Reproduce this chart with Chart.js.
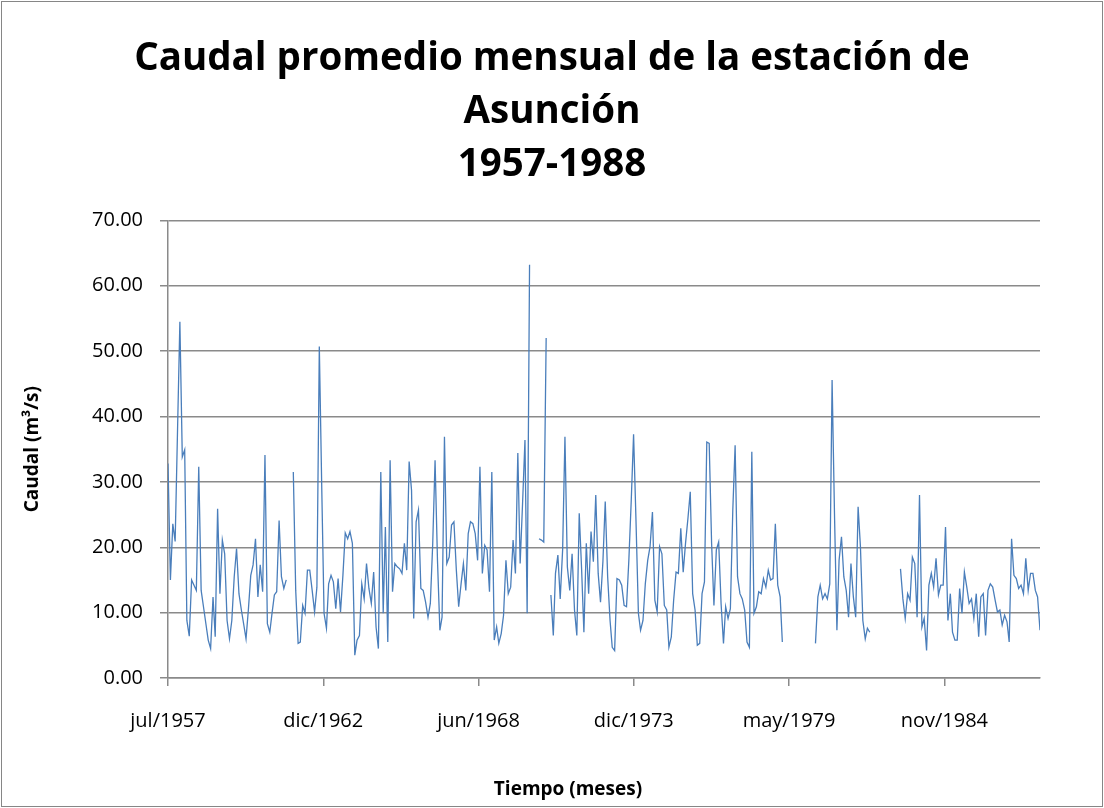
<!DOCTYPE html>
<html>
<head>
<meta charset="utf-8">
<title>Caudal promedio mensual - Asunción</title>
<script src="https://cdn.jsdelivr.net/npm/chart.js@4.4.1/dist/chart.umd.min.js"></script>
<style>
  html, body { margin: 0; padding: 0; background: #ffffff; }
  #wrap { width: 1104px; height: 808px; position: relative; }
</style>
</head>
<body>
<div id="wrap"><canvas id="caudalChart"></canvas></div>
<script>
// serie mensual, empieza en julio de 1957
const startYear = 1957;
const startMonth = 6; // 0 = enero
const mesesAbr = ["ene", "feb", "mar", "abr", "may", "jun", "jul", "ago", "sep", "oct", "nov", "dic"];

// caudal (m3/s), un renglon = 12 meses desde julio; null = sin dato
const caudal = [
    32.8, 15.0, 23.6, 20.9, 38.0, 54.5, 33.8, 34.9, 8.8, 6.4, 15.0, 14.2,
    13.4, 32.3, 13.4, 10.9, 8.3, 5.8, 4.5, 12.4, 6.3, 25.9, 12.9, 21.1,
    19.0, 8.8, 6.0, 8.8, 15.5, 19.8, 12.9, 10.4, 8.3, 6.0, 10.4, 15.7,
    17.3, 21.3, 12.4, 17.3, 13.2, 34.1, 8.3, 7.0, 9.8, 12.7, 13.2, 24.1,
    15.5, 13.7, 15.0, null, null, 31.5, 13.4, 5.3, 5.5, 11.1, 9.9, 16.5,
    16.5, 13.4, 10.1, 13.9, 50.7, 30.0, 9.9, 7.6, 14.4, 15.7, 14.7, 10.6,
    15.2, 10.1, 15.7, 22.2, 21.3, 22.4, 20.6, 3.5, 5.8, 6.5, 14.4, 12.1,
    17.5, 13.7, 11.4, 16.2, 7.8, 4.5, 31.5, 9.9, 23.1, 5.5, 33.3, 13.2,
    17.5, 17.0, 16.7, 16.0, 20.6, 16.5, 33.1, 28.7, 9.1, 23.9, 25.7, 13.7,
    13.4, 11.6, 9.3, 11.4, 20.6, 33.3, 18.0, 7.3, 9.3, 36.9, 17.5, 18.5,
    23.4, 23.9, 16.5, 10.9, 14.4, 17.5, 13.4, 22.1, 23.9, 23.6, 22.1, 18.0,
    32.3, 16.0, 20.3, 19.6, 13.2, 31.5, 5.8, 7.8, 5.3, 6.8, 9.6, 18.0,
    12.9, 13.9, 21.1, 16.0, 34.4, 17.5, 26.7, 36.4, 9.9, 63.2, null, null,
    null, 21.3, 21.1, 20.8, 52.0, null, 12.7, 6.5, 16.0, 18.8, 12.1, 19.6,
    36.9, 17.0, 13.4, 19.0, 10.4, 6.5, 25.2, 16.5, 7.0, 20.6, 12.9, 22.4,
    17.8, 28.0, 16.0, 11.6, 17.8, 27.0, 15.5, 8.8, 4.7, 4.2, 15.2, 15.0,
    14.2, 11.1, 10.9, 18.0, 27.2, 37.3, 24.1, 9.9, 7.3, 8.8, 14.4, 18.0,
    20.1, 25.4, 11.9, 10.1, 20.1, 19.0, 11.1, 10.4, 4.7, 6.3, 11.9, 16.2,
    16.0, 22.9, 16.2, 20.6, 24.4, 28.5, 12.9, 10.4, 5.0, 5.3, 12.9, 14.7,
    36.1, 35.9, 20.6, 11.1, 19.6, 20.8, 11.4, 5.3, 10.9, 9.1, 10.6, 25.7,
    35.6, 15.5, 12.9, 12.1, 10.4, 5.5, 4.7, 34.6, 9.9, 10.9, 13.2, 12.9,
    15.2, 13.9, 16.5, 15.0, 15.2, 23.6, 14.2, 12.4, 5.5, null, null, null,
    null, null, null, null, null, null, null, null, null, null, 5.3, 12.4,
    14.2, 12.1, 12.9, 12.1, 14.4, 45.6, 25.0, 7.3, 18.0, 21.6, 15.5, 13.4,
    9.3, 17.5, 12.4, 9.3, 26.2, 20.1, 8.8, 6.0, 7.6, 7.0, null, null,
    null, null, null, null, null, null, null, null, null, null, 16.7, 12.1,
    9.1, 12.9, 11.9, 18.5, 17.5, 9.3, 28.0, 7.8, 9.1, 4.2, 14.2, 16.0,
    13.9, 18.3, 12.7, 14.2, 14.2, 23.1, 8.8, 12.9, 7.0, 5.8, 5.8, 13.7,
    9.9, 16.2, 13.9, 11.4, 12.1, 9.1, 12.9, 6.3, 12.4, 12.9, 6.5, 13.4,
    14.4, 13.9, 11.9, 10.1, 10.4, 8.1, 9.6, 8.6, 5.5, 21.3, 15.7, 15.2,
    13.7, 14.2, 12.9, 18.3, 13.4, 16.0, 16.0, 13.4, 12.4, 7.3
];

// eje de fechas: marcas cada 2000 dias desde el primer mes
const tickDias = [0, 2000, 4000, 6000, 8000, 10000];

const dayMs = 86400000;
const t0 = Date.UTC(startYear, startMonth, 1);
const dias = caudal.map((_, i) => (Date.UTC(startYear, startMonth + i, 1) - t0) / dayMs);
const puntos = caudal.map((v, i) => ({ x: dias[i], y: v }));

const fontFam = "'Open Sans', 'Noto Sans', sans-serif";
const gris = "#8a8a8a";

// marco gris alrededor del grafico + titulo del eje x (Excel lo deja algo a la izquierda)
const marco = {
    id: "marco",
    afterDraw(chart) {
        const c = chart.ctx;
        c.save();
        c.strokeStyle = "#868686";
        c.lineWidth = 1;
        c.strokeRect(1.5, 1.5, chart.width - 3, chart.height - 3);
        c.fillStyle = "#000000";
        c.font = "bold 19px " + fontFam;
        c.textAlign = "center";
        c.textBaseline = "middle";
        c.fillText("Tiempo (meses)", 568, 790);
        c.restore();
    }
};

const ctx = document.getElementById("caudalChart").getContext("2d");
new Chart(ctx, {
    type: "line",
    data: {
        datasets: [{
            label: "Caudal",
            data: puntos,
            borderColor: "#4A7EBB",
            borderWidth: 1.3,
            pointRadius: 0,
            tension: 0,
            spanGaps: false,
            fill: false
        }]
    },
    options: {
        responsive: true,
        maintainAspectRatio: false,
        animation: false,
        layout: { padding: { left: 64, right: 64, top: 0, bottom: 0 } },
        plugins: {
            legend: { display: false },
            tooltip: { enabled: false },
            title: {
                display: true,
                text: ["Caudal promedio mensual de la estación de", "Asunción", "1957-1988"],
                color: "#000000",
                font: { family: fontFam, size: 38.5, weight: "bold", lineHeight: 1.38 },
                padding: { top: 32, bottom: 29 }
            }
        },
        scales: {
            x: {
                type: "linear",
                min: 0,
                max: dias[dias.length - 1],
                afterBuildTicks: (scale) => {
                    scale.ticks = tickDias.map(v => ({ value: v }));
                },
                afterFit: (scale) => { scale.height = 130; },
                ticks: {
                    autoSkip: false,
                    maxRotation: 0,
                    padding: 23,
                    color: "#000000",
                    font: { family: fontFam, size: 20 },
                    callback: (v) => {
                        const d = new Date(t0 + v * dayMs);
                        return mesesAbr[d.getUTCMonth()] + "/" + d.getUTCFullYear();
                    }
                },
                grid: { drawOnChartArea: false, drawTicks: true, tickLength: 8, color: gris, lineWidth: 1.5 },
                border: { display: true, color: gris, width: 1.5 }
            },
            y: {
                min: 0,
                max: 70,
                afterFit: (scale) => { scale.width = 104; },
                ticks: {
                    stepSize: 10,
                    padding: 17,
                    color: "#000000",
                    font: { family: fontFam, size: 20 },
                    callback: (v) => v.toFixed(2)
                },
                grid: { color: gris, lineWidth: 1.5, drawTicks: true, tickLength: 8 },
                border: { display: true, color: gris, width: 1.5 },
                title: {
                    display: true,
                    text: "Caudal (m³/s)",
                    color: "#000000",
                    font: { family: fontFam, size: 19, weight: "bold" },
                    padding: { top: -42.4, bottom: 0 }
                }
            }
        }
    },
    plugins: [marco]
});
</script>
</body>
</html>
